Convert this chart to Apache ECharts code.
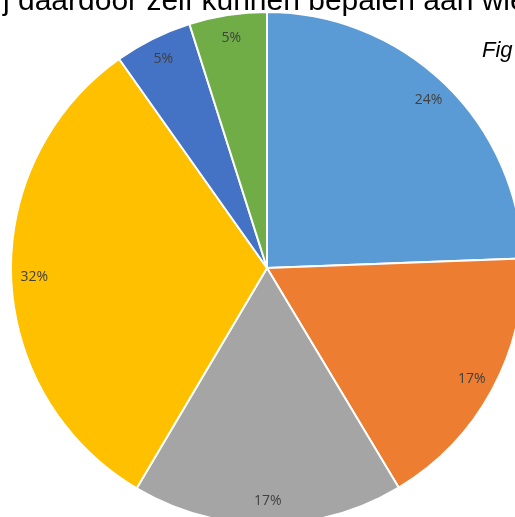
<!DOCTYPE html>
<html>
<head>
<meta charset="utf-8">
<script src="https://cdn.jsdelivr.net/npm/echarts@6/dist/echarts.min.js"></script>
<style>
html,body{margin:0;padding:0;background:#fff;}
#main{width:515px;height:517px;}
</style>
</head>
<body>
<div id="main"></div>
<script>
var names=["A","B","C","D","E","F"];
var values=[24.4,17.0,17.1,31.7,4.9,4.9];
var colors=["#5B9BD5","#ED7D31","#A5A5A5","#FFC000","#4472C4","#70AD47"];
var datas=[];
for(var i=0;i<values.length;i++){
	datas.push({name:names[i],value:values[i],itemStyle:{color:colors[i]}});
}
var chart=echarts.init(document.getElementById("main"));
chart.setOption({
	animation:false,
	graphic:[
		{type:"text",x:3,y:2,style:{text:"j daardoor zelf kunnen bepalen aan wie",font:"30px 'Liberation Sans', Arial",fill:"#000",verticalAlign:"middle"}},
		{type:"text",x:482,y:51,style:{text:"Fig",font:"italic 22px 'Liberation Sans', Arial",fill:"#000",verticalAlign:"middle"}}
	],
	series:[{
		type:"pie",
		center:[267,268],
		radius:[0,256],
		startAngle:90,
		clockwise:true,
		silent:true,
		percentPrecision:0,
		itemStyle:{borderColor:"#fff",borderWidth:2},
		label:{show:false},
		data:datas
	},{
		type:"pie",
		center:[267,268],
		radius:[204,256],
		startAngle:90,
		clockwise:true,
		silent:true,
		percentPrecision:0,
		itemStyle:{color:"transparent",borderWidth:0},
		label:{show:true,position:"inside",formatter:"{d}%",color:"#404040",fontSize:14,fontFamily:"'Open Sans', sans-serif"},
		labelLine:{show:false},
		data:values.map(function(v,i){return {name:names[i],value:v};})
	}]
});
</script>
</body>
</html>
